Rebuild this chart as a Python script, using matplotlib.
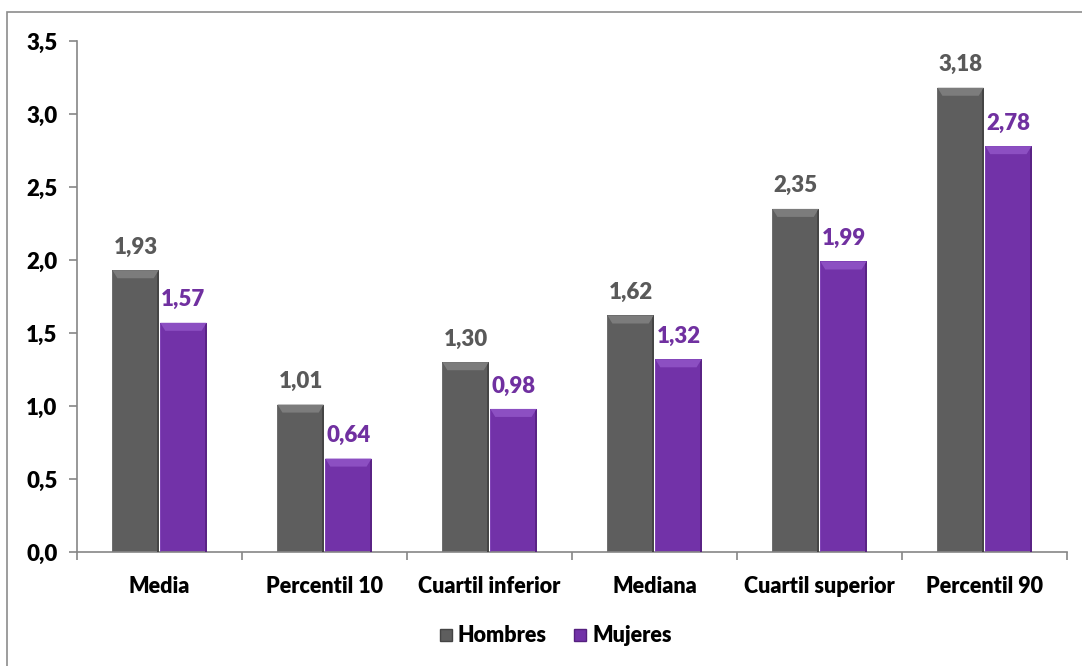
import matplotlib
matplotlib.use("Agg")
import matplotlib.pyplot as plt
from matplotlib.patches import Rectangle, Polygon
from matplotlib.lines import Line2D
import numpy as np

categories = ["Media", "Percentil 10", "Cuartil inferior", "Mediana", "Cuartil superior", "Percentil 90"]
hombres = [1.93, 1.01, 1.30, 1.62, 2.35, 3.18]
mujeres = [1.57, 0.64, 0.98, 1.32, 1.99, 2.78]
series_names = ["Hombres", "Mujeres"]
yticks = [0.0, 0.5, 1.0, 1.5, 2.0, 2.5, 3.0, 3.5]

plt.rcParams['font.family'] = ['Lato', 'DejaVu Sans']
WT = 800

W, H = 1082, 666
fig = plt.figure(figsize=(W / 100, H / 100), dpi=100)
ax = fig.add_axes([77 / W, 1 - 552 / H, (1067 - 77) / W, (552 - 41) / H])

# figure border
fig.patches.append(Rectangle((7 / W, -0.1), 1.2, 1 - 12 / H + 0.1, transform=fig.transFigure,
                             fill=False, edgecolor='#8c8c8c', linewidth=1.2, zorder=0))

gray = '#5e5e5e'
purple = '#7232a8'
gray_txt = '#595959'
purple_txt = '#7030a0'

x = np.arange(len(categories))
bw = 0.28
off = 0.145

def bevel(ax, xc, h, color, light, dark):
    x0, x1 = xc - bw / 2, xc + bw / 2
    ax.bar(xc, h, bw, color=color, zorder=2, linewidth=0)
    bx = 0.03
    by = 0.055
    top = Polygon([(x0, h), (x1, h), (x1 - bx, h - by), (x0 + bx, h - by)], closed=True,
                  facecolor=light, edgecolor='none', zorder=3)
    right = Polygon([(x1, h), (x1, 0), (x1 - 0.008, 0), (x1 - 0.008, h - by * 0.3)], closed=True,
                    facecolor=dark, edgecolor='none', zorder=3)
    left = Polygon([(x0, h), (x0, 0), (x0 + 0.006, 0), (x0 + 0.006, h - by * 0.3)], closed=True,
                   facecolor=light, edgecolor='none', zorder=3, alpha=0.6)
    ax.add_patch(top)
    ax.add_patch(right)
    ax.add_patch(left)

for i in range(len(categories)):
    bevel(ax, x[i] - off, hombres[i], gray, '#7c7c7c', '#454545')
    bevel(ax, x[i] + off, mujeres[i], purple, '#8c4fc2', '#5a2385')
    ax.annotate(f"{hombres[i]:.2f}".replace('.', ','), (x[i] - off, hombres[i]),
                xytext=(0, 9), textcoords='offset points', ha='center', va='bottom',
                fontsize=16, fontweight=WT, color=gray_txt)
    ax.annotate(f"{mujeres[i]:.2f}".replace('.', ','), (x[i] + off, mujeres[i]),
                xytext=(0, 9), textcoords='offset points', ha='center', va='bottom',
                fontsize=16, fontweight=WT, color=purple_txt)

ax.set_xlim(-0.5, len(categories) - 0.5)
ax.set_ylim(0, 3.5)
ax.set_yticks(yticks)
ax.set_yticklabels([f"{t:.1f}".replace('.', ',') for t in yticks], fontsize=16, fontweight=WT)
ax.set_xticks(x)
ax.set_xticklabels(categories, fontsize=15.5, fontweight=WT)
ax.tick_params(axis='x', length=0, pad=17)
ax.set_xticks(np.arange(len(categories) + 1) - 0.5, minor=True)
ax.tick_params(axis='x', which='minor', length=6, color='#868686', width=1.2)
ax.tick_params(axis='y', length=6, color='#868686', width=1.2, pad=8)
for s in ['top', 'right']:
    ax.spines[s].set_visible(False)
for s in ['left', 'bottom']:
    ax.spines[s].set_color('#868686')
    ax.spines[s].set_linewidth(1.2)

handles = [Line2D([], [], marker='s', linestyle='none', markersize=9, markerfacecolor=gray,
                  markeredgecolor='#444444'),
           Line2D([], [], marker='s', linestyle='none', markersize=9, markerfacecolor=purple,
                  markeredgecolor='#55207f')]
fig.legend(handles, series_names, loc='center', bbox_to_anchor=(555 / W, 1 - 636 / H),
           ncol=2, frameon=False, handlelength=0.7, handletextpad=0.2, columnspacing=1.2,
           prop={'weight': WT, 'size': 15.5})

fig.savefig("out.png", dpi=100)
